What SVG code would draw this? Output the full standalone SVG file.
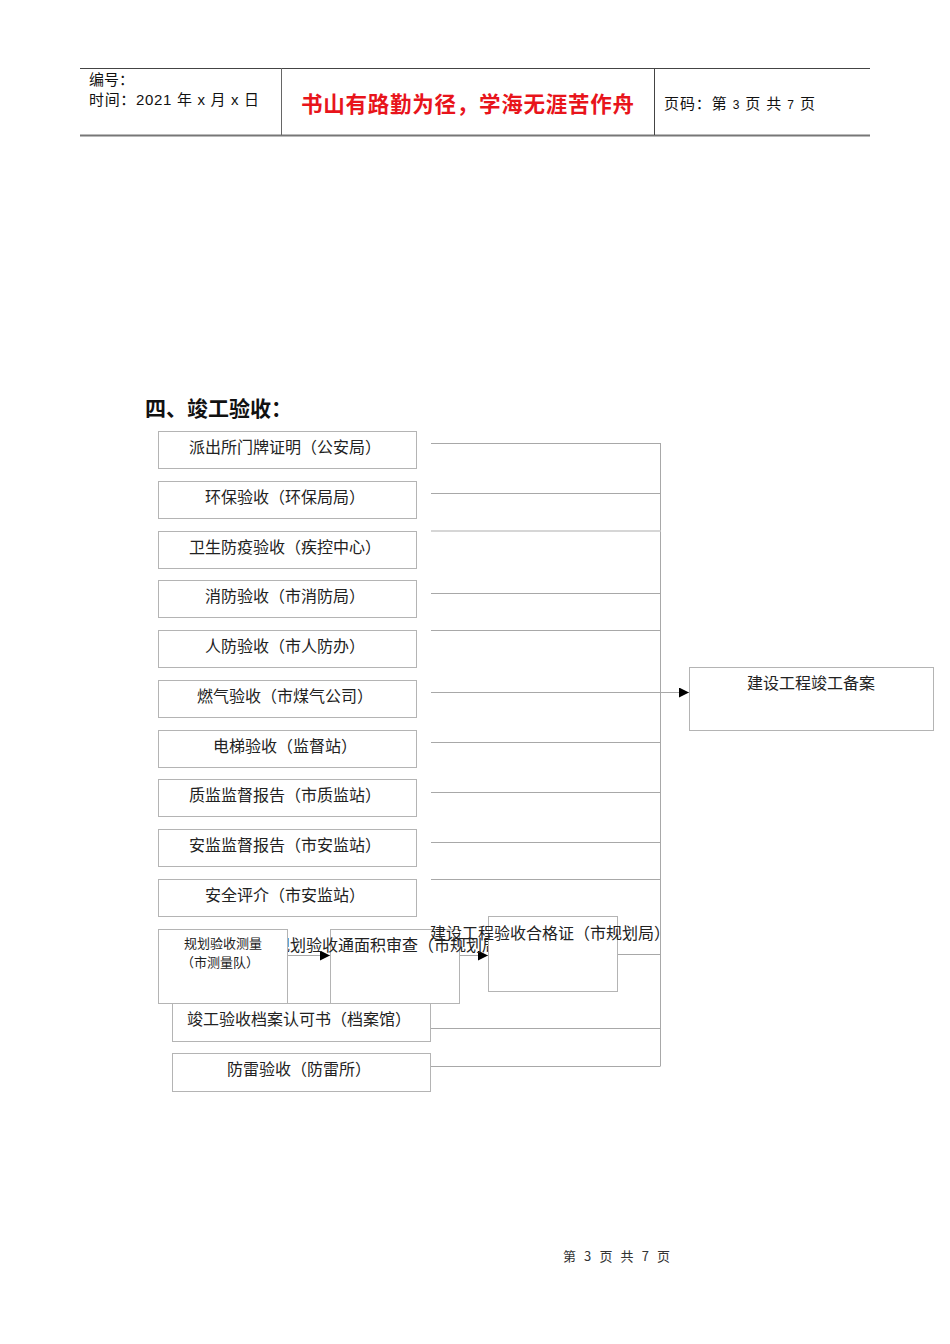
<svg xmlns="http://www.w3.org/2000/svg" width="950" height="1344" viewBox="0 0 950 1344">
<style>
.bx{fill:#fff;stroke:#b4b4b4;stroke-width:1}
.t{font-family:"Noto Sans CJK SC","Noto Sans",sans-serif;font-size:16px;fill:#222;text-anchor:middle}
.ts{font-family:"Noto Sans CJK SC","Noto Sans",sans-serif;font-size:13px;fill:#222;text-anchor:middle}
.c{stroke:#a8a8a8;stroke-width:1;fill:none}
.h{font-family:"Liberation Sans","Noto Sans CJK SC",sans-serif;font-size:15px;fill:#111}
</style>
<defs>
<marker id="ah" viewBox="0 0 10 10" refX="10" refY="5" markerWidth="10" markerHeight="10" markerUnits="userSpaceOnUse" orient="auto">
<path d="M0,0 L10,5 L0,10 z" fill="#000"/>
</marker>
<clipPath id="clip12"><rect x="287" y="925" width="201" height="40"/></clipPath>
</defs>
<rect width="950" height="1344" fill="#fff"/>
<g id="header">
<line x1="80" y1="68.5" x2="870" y2="68.5" stroke="#444" stroke-width="1"/>
<line x1="80" y1="135.5" x2="870" y2="135.5" stroke="#777" stroke-width="2"/>
<line x1="281.5" y1="68" x2="281.5" y2="135" stroke="#666" stroke-width="1"/>
<line x1="654.5" y1="68" x2="654.5" y2="135" stroke="#444" stroke-width="1"/>
<text class="h" x="89" y="85">编号：</text>
<text class="h" x="89" y="105" textLength="170">时间：2021 年 x 月 x 日</text>
<text x="301" y="112" font-family="Noto Sans CJK SC,sans-serif" font-size="21.5" font-weight="bold" fill="#e8141b" textLength="333">书山有路勤为径，学海无涯苦作舟</text>
<text class="h" x="664" y="109" textLength="151">页码：第 <tspan font-size="12">3</tspan> 页  共 <tspan font-size="12">7</tspan> 页</text>
</g>
<text x="145" y="416" font-family="Noto Sans CJK SC,sans-serif" font-size="21" font-weight="bold" fill="#111">四、竣工验收：</text>
<g id="connectors">
<line class="c" x1="431" y1="443.5" x2="660.5" y2="443.5"/>
<line class="c" x1="660.5" y1="443" x2="660.5" y2="1066"/>
<line class="c" x1="431" y1="493.5" x2="660.5" y2="493.5"/>
<line x1="431" y1="531" x2="660.5" y2="531" stroke="#d6d6d6" stroke-width="2"/>
<line class="c" x1="431" y1="593.5" x2="660.5" y2="593.5"/>
<line class="c" x1="431" y1="630.5" x2="660.5" y2="630.5"/>
<line class="c" x1="431" y1="692.5" x2="689" y2="692.5" marker-end="url(#ah)"/>
<line class="c" x1="431" y1="742.5" x2="660.5" y2="742.5"/>
<line class="c" x1="431" y1="792.5" x2="660.5" y2="792.5"/>
<line class="c" x1="431" y1="842.5" x2="660.5" y2="842.5"/>
<line class="c" x1="431" y1="879.5" x2="660.5" y2="879.5"/>
<line class="c" x1="617" y1="954.5" x2="660.5" y2="954.5"/>
<line class="c" x1="430" y1="1028.5" x2="660.5" y2="1028.5"/>
<line class="c" x1="430" y1="1066.5" x2="660.5" y2="1066.5"/>
<line class="c" x1="287" y1="955.5" x2="330" y2="955.5" marker-end="url(#ah)"/>
<line class="c" x1="459" y1="955.5" x2="488" y2="955.5" marker-end="url(#ah)"/>
</g>
<g id="n1"><rect class="bx" x="158.5" y="431.5" width="258" height="37"/><text class="t" x="285" y="453">派出所门牌证明（公安局）</text></g>
<g id="n2"><rect class="bx" x="158.5" y="481.5" width="258" height="37"/><text class="t" x="285" y="503">环保验收（环保局局）</text></g>
<g id="n3"><rect class="bx" x="158.5" y="531.5" width="258" height="37"/><text class="t" x="285" y="553">卫生防疫验收（疾控中心）</text></g>
<g id="n4"><rect class="bx" x="158.5" y="580.5" width="258" height="37"/><text class="t" x="285" y="602">消防验收（市消防局）</text></g>
<g id="n5"><rect class="bx" x="158.5" y="630.5" width="258" height="37"/><text class="t" x="285" y="652">人防验收（市人防办）</text></g>
<g id="n6"><rect class="bx" x="158.5" y="680.5" width="258" height="37"/><text class="t" x="285" y="702">燃气验收（市煤气公司）</text></g>
<g id="n7"><rect class="bx" x="158.5" y="730.5" width="258" height="37"/><text class="t" x="285" y="752">电梯验收（监督站）</text></g>
<g id="n8"><rect class="bx" x="158.5" y="779.5" width="258" height="37"/><text class="t" x="285" y="801">质监监督报告（市质监站）</text></g>
<g id="n9"><rect class="bx" x="158.5" y="829.5" width="258" height="37"/><text class="t" x="285" y="851">安监监督报告（市安监站）</text></g>
<g id="n10"><rect class="bx" x="158.5" y="879.5" width="258" height="37"/><text class="t" x="285" y="901">安全评介（市安监站）</text></g>
<g id="n12"><rect class="bx" x="330.5" y="929.5" width="129" height="74"/><text class="t" x="394" y="951" clip-path="url(#clip12)">规划验收通面积审查（市规划局）</text></g>
<g id="n11"><rect class="bx" x="158.5" y="929.5" width="129" height="74"/><text class="ts" x="223" y="948">规划验收测量</text><text class="ts" x="220" y="967">（市测量队）</text></g>
<g id="n13"><rect class="bx" x="488.5" y="916.5" width="129" height="75"/><text class="t" x="550" y="939">建设工程验收合格证（市规划局）</text></g>
<g id="n14"><rect class="bx" x="172.5" y="1003.5" width="258" height="38"/><text class="t" x="299" y="1025">竣工验收档案认可书（档案馆）</text></g>
<g id="n15"><rect class="bx" x="172.5" y="1053.5" width="258" height="38"/><text class="t" x="299" y="1075">防雷验收（防雷所）</text></g>
<g id="target"><rect class="bx" x="689.5" y="667.5" width="244" height="63"/><text class="t" x="811" y="689">建设工程竣工备案</text></g>
<text x="563" y="1261" font-family="Noto Sans CJK SC,sans-serif" font-size="13" fill="#333" textLength="107">第 3 页 共 7 页</text>
</svg>
